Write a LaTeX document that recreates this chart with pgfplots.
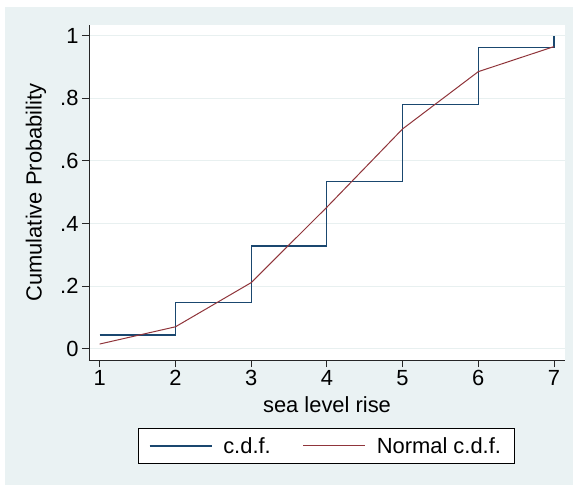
\documentclass[border=0pt]{standalone}
\usepackage{fontspec}
\setmainfont{Liberation Sans}
\usepackage{pgfplots}
\pgfplotsset{compat=1.18}
\definecolor{stbg}{RGB}{234,242,243}
\definecolor{stgrid}{RGB}{232,240,240}
\definecolor{stnavy}{RGB}{26,71,111}
\definecolor{stmaroon}{RGB}{144,53,59}
\newcommand{\chartfont}{\fontsize{22}{26}\selectfont}
\begin{document}
\begin{tikzpicture}
\useasboundingbox (0bp,0bp) rectangle (575bp,485bp);
\fill[white] (0bp,0bp) rectangle (575bp,485bp);
\fill[stbg] (5bp,0bp) rectangle (573bp,478bp);
\begin{axis}[
  at={(89bp,125bp)}, anchor=south west,
  scale only axis, width=476bp, height=335bp,
  xmin=0.859, xmax=7.145, ymin=-0.036, ymax=1.034,
  axis background/.style={fill=white},
  axis x line*=bottom, axis y line*=left,
  axis line style={black!85, line width=0.9bp, -},
  tick align=outside, major tick length=7bp,
  tick style={black!85, line width=0.9bp},
  xtick={1,2,3,4,5,6,7}, xticklabels={1,2,3,4,5,6,7},
  ytick={0,0.2,0.4,0.6,0.8,1}, yticklabels={0,.2,.4,.6,.8,1},
  ymajorgrids, major grid style={stgrid, line width=1.2bp},
  tick label style={font=\chartfont},
  label style={font=\chartfont},
  xlabel={sea level rise},
  ylabel={Cumulative Probability},
  xlabel style={at={(axis description cs:0.5,-0.158)}, anchor=base},
  ylabel style={at={(axis description cs:-0.1113,0.5)}, anchor=center},
  legend style={at={(axis description cs:0.498,-0.2567)}, anchor=center,
    legend columns=2, draw=black, fill=white, line width=0.8bp,
    font=\chartfont, inner xsep=11bp, inner ysep=7bp,
    /tikz/every odd column/.append style={column sep=9bp},
    /tikz/every even column/.append style={column sep=30bp}},
  legend image code/.code={\draw[#1] (0bp,0bp) -- (62bp,0bp);},
  clip=false,
]
\addplot[const plot, stnavy, line width=1.2bp] coordinates {
  (1,0.044) (2,0.148) (3,0.328) (4,0.534) (5,0.779) (6,0.961) (7,1.0)
};
\addlegendentry{c.d.f.}
\addplot[stmaroon, line width=1bp] coordinates {
  (1,0.015) (2,0.070) (3,0.211) (4,0.452) (5,0.702) (6,0.885) (7,0.965)
};
\addlegendentry{Normal c.d.f.}
\end{axis}
\end{tikzpicture}
\end{document}
